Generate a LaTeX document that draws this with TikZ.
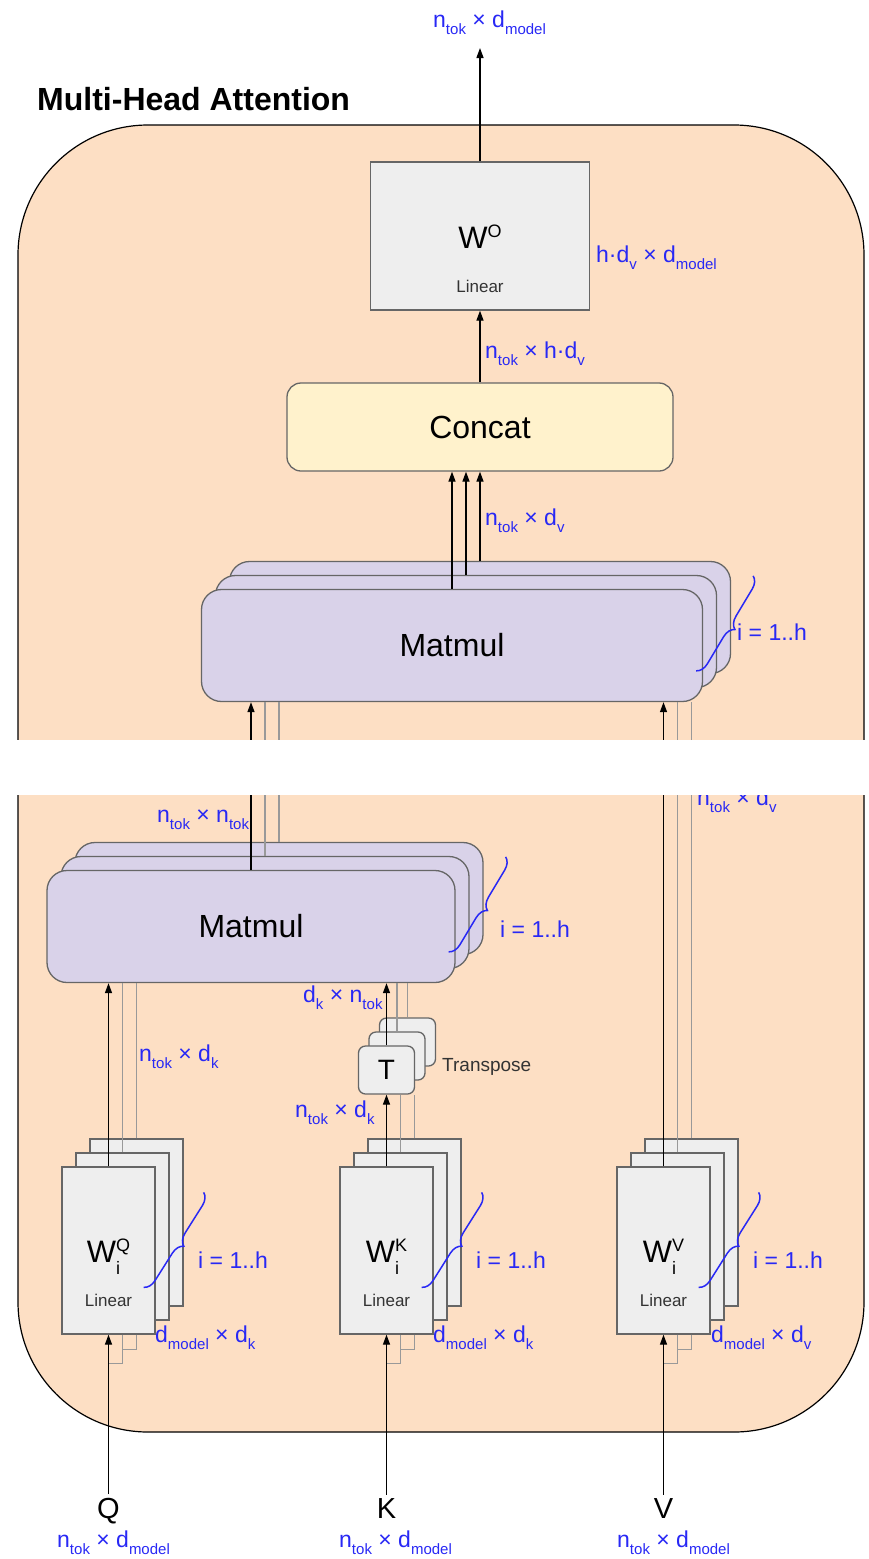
\documentclass[tikz,border=0pt]{standalone}
\usepackage{fontspec}
\setmainfont{Liberation Sans}
\usetikzlibrary{arrows.meta,calc,decorations.pathreplacing}

\definecolor{peach}{RGB}{253,223,196}
\definecolor{lavender}{RGB}{217,210,233}
\definecolor{cream}{RGB}{255,242,204}
\definecolor{boxfill}{RGB}{238,238,238}
\definecolor{boxedge}{RGB}{102,102,102}
\definecolor{wiregray}{RGB}{153,153,153}
\definecolor{dimblue}{RGB}{40,40,245}
\definecolor{softblack}{RGB}{51,51,51}

% lowered subscript used in the shape labels
\newcommand\dsub[1]{\raisebox{-7pt}{\fontsize{15}{15}\selectfont #1}}
% raised superscript / stacked sub+superscript for weight names
\newcommand\wsup[1]{\raisebox{11pt}{\fontsize{18}{18}\selectfont #1}}
\newcommand\wsubsup[2]{\rlap{\raisebox{-12pt}{\fontsize{18}{18}\selectfont #1}}\wsup{#2}}

\begin{document}
\begin{tikzpicture}[x=1pt,y=-1pt,
  outerbox/.style={draw=black, fill=peach, line width=1.2pt, rounded corners=130pt},
  mm/.style={draw=boxedge, fill=lavender, line width=1.3pt, rounded corners=20pt,
    minimum height=112pt, inner sep=0pt, font=\fontsize{32}{32}\selectfont},
  lin/.style={draw=boxedge, fill=boxfill, line width=1.3pt,
    minimum width=93pt, minimum height=167pt, inner sep=0pt},
  tbox/.style={draw=boxedge, fill=boxfill, line width=1.3pt, rounded corners=7pt,
    minimum width=56pt, minimum height=48pt, inner sep=0pt, font=\fontsize{28}{28}\selectfont},
  wname/.style={anchor=base, inner sep=0pt, font=\fontsize{31}{31}\selectfont},
  wtag/.style={anchor=base, inner sep=0pt, text=softblack, font=\fontsize{17}{17}\selectfont},
  dim/.style={anchor=base west, inner sep=0pt, text=dimblue, font=\fontsize{23}{23}\selectfont},
  arr/.style={draw=black, line width=1.3pt, -{Triangle[length=10pt,width=7pt]}},
  wire/.style={draw=wiregray, line width=1.3pt},
  brc/.style={draw=dimblue, line width=1.5pt, decorate, decoration={brace, amplitude=12pt}},
  io/.style={anchor=base, font=\fontsize{29}{29}\selectfont}
]
\useasboundingbox (0,0) rectangle (869,1559);

% container
\draw[outerbox] (18,125) rectangle (864,1432);
\node[anchor=base west, inner sep=0pt, font=\fontsize{32}{32}\selectfont\bfseries] (title) at (37,110) {Multi-Head Attention};

% output projection
\node[lin, minimum width=219pt, minimum height=148pt] (wo) at (480,236) {};
\node[wname] (woname) at ($(wo.center)+(0,12)$) {W\wsup{O}};
\node[wtag] (wotag) at ($(wo.center)+(0,56)$) {Linear};

% concatenation
\node[draw=boxedge, fill=cream, line width=1.3pt, rounded corners=14pt, minimum width=386pt,
  minimum height=88pt, inner sep=0pt, font=\fontsize{32}{32}\selectfont] (concat) at (480,427) {Concat};

% upper matmul, one layer per head
\node[mm, minimum width=501pt] (mmA3) at (480,617.5) {};
\node[mm, minimum width=501pt] (mmA2) at (466,631.5) {};
\node[mm, minimum width=501pt] (mmA1) at (452,645.5) {Matmul};

% lower matmul, one layer per head
\node[mm, minimum width=408pt] (mmB3) at (279,898.5) {};
\node[mm, minimum width=408pt] (mmB2) at (265,912.5) {};
\node[mm, minimum width=408pt] (mmB1) at (251,926.5) {Matmul};

% transpose, one per head
\node[tbox] (tt3) at (407.5,1042) {};
\node[tbox] (tt2) at (397,1056) {};
\node[tbox] (tt1) at (386.5,1070) {T};

% per-head projections
\node[lin] (wq3) at (136.5,1222.5) {};
\node[lin] (wq2) at (122.5,1236.5) {};
\node[lin] (wq1) at (108.5,1250.5) {};
\node[wname] (wqname) at ($(wq1.center)+(0,12)$) {W\wsubsup{i}{Q}};
\node[wtag] (wqtag) at ($(wq1.center)+(0,56)$) {Linear};

\node[lin] (wk3) at (414.5,1222.5) {};
\node[lin] (wk2) at (400.5,1236.5) {};
\node[lin] (wk1) at (386.5,1250.5) {};
\node[wname] (wkname) at ($(wk1.center)+(0,12)$) {W\wsubsup{i}{K}};
\node[wtag] (wktag) at ($(wk1.center)+(0,56)$) {Linear};

\node[lin] (wv3) at (691.5,1222.5) {};
\node[lin] (wv2) at (677.5,1236.5) {};
\node[lin] (wv1) at (663.5,1250.5) {};
\node[wname] (wvname) at ($(wv1.center)+(0,12)$) {W\wsubsup{i}{V}};
\node[wtag] (wvtag) at ($(wv1.center)+(0,56)$) {Linear};

% inputs
\node[io] (qin) at (108.5,1518) {Q};
\node[io] (kin) at (386.5,1518) {K};
\node[io] (vin) at (663.5,1518) {V};

% connectors: top part
\coordinate (outtip) at (480,48);
\draw[arr] (wo.north) -- (outtip);
\draw[arr] (concat.north) -- (wo.south);
\draw[arr] (mmA1.north) -- (mmA1.north |- concat.south);
\draw[arr] (mmA2.north) -- (mmA2.north |- concat.south);
\draw[arr] (mmA3.north) -- (mmA3.north |- concat.south);

% scores into the upper matmul
\draw[arr] (mmB1.north) -- (mmB1.north |- mmA1.south);
\draw[wire] (mmB2.north) -- (mmB2.north |- mmA1.south);
\draw[wire] (mmB3.north) -- (mmB3.north |- mmA1.south);
% values into the upper matmul
\draw[arr] (wv1.north) -- (wv1.north |- mmA1.south);
\draw[wire] (wv2.north) -- (wv2.north |- mmA1.south);
\draw[wire] (wv3.north) -- (wv3.north |- mmA1.south);

% queries and transposed keys into the lower matmul
\draw[arr] (wq1.north) -- (wq1.north |- mmB1.south);
\draw[wire] (wq2.north) -- (wq2.north |- mmB1.south);
\draw[wire] (wq3.north) -- (wq3.north |- mmB1.south);
\draw[arr] (tt1.north) -- (tt1.north |- mmB1.south);
\draw[wire] (tt2.north) -- (tt2.north |- mmB1.south);
\draw[wire] (tt3.north) -- (tt3.north |- mmB1.south);
\draw[arr] (wk1.north) -- (tt1.south);
\draw[wire] (wk2.north) -- (wk2.north |- tt1.south);
\draw[wire] (wk3.north) -- (wk3.north |- tt1.south);

% inputs fanned out to every head
\draw[arr] (qin.north) -- (wq1.south);
\draw[arr] (kin.north) -- (wk1.south);
\draw[arr] (vin.north) -- (wv1.south);
\foreach \s in {q,k,v}{
  \draw[wire] (w\s3.south |- w\s1.south) -- ++(0,15) -- ++(-14,0);
  \draw[wire] (w\s2.south |- w\s1.south) -- ++(0,29) -- ++(-14,0);
}

% braces over the head copies
\draw[brc] ($(mmA1.north east)+(50,-13)$) -- ($(mmA1.north east)+(-7,82)$);
\draw[brc] ($(mmB1.north east)+(50,-13)$) -- ($(mmB1.north east)+(-7,82)$);
\draw[brc] ($(wq1.north east)+(48,26)$) -- ($(wq1.north east)+(-12,121)$);
\draw[brc] ($(wk1.north east)+(48,26)$) -- ($(wk1.north east)+(-12,121)$);
\draw[brc] ($(wv1.north east)+(48,26)$) -- ($(wv1.north east)+(-12,121)$);

% shapes
\node[dim] (lblout) at (433,27) {n\dsub{tok} × d\dsub{model}};
\node[dim] (lblwo) at (596,262) {h·d\dsub{v} × d\dsub{model}};
\node[dim] (lblcat) at (485,358) {n\dsub{tok} × h·d\dsub{v}};
\node[dim] (lblhead) at (485,525) {n\dsub{tok} × d\dsub{v}};
\node[dim] (lblia) at (737,640) {i = 1..h};
\node[dim] (lblvv) at (697,805) {n\dsub{tok} × d\dsub{v}};
\node[dim] (lblscore) at (157,822) {n\dsub{tok} × n\dsub{tok}};
\node[dim] (lblib) at (500,937) {i = 1..h};
\node[dim] (lblkt) at (303,1002) {d\dsub{k} × n\dsub{tok}};
\node[anchor=base west, inner sep=0pt, text=softblack, font=\fontsize{19}{19}\selectfont] (trlbl) at (442,1071) {Transpose};
\node[dim] (lblk) at (295,1117) {n\dsub{tok} × d\dsub{k}};
\node[dim] (lblq) at (139,1061) {n\dsub{tok} × d\dsub{k}};
\node[dim] (lbliq) at (198,1268) {i = 1..h};
\node[dim] (lblik) at (476,1268) {i = 1..h};
\node[dim] (lbliv) at (753,1268) {i = 1..h};
\node[dim] (lblwq) at (155,1342) {d\dsub{model} × d\dsub{k}};
\node[dim] (lblwk) at (433,1342) {d\dsub{model} × d\dsub{k}};
\node[dim] (lblwv) at (711,1342) {d\dsub{model} × d\dsub{v}};
\node[dim] (lblqin) at (57,1547) {n\dsub{tok} × d\dsub{model}};
\node[dim] (lblkin) at (339,1547) {n\dsub{tok} × d\dsub{model}};
\node[dim] (lblvin) at (617,1547) {n\dsub{tok} × d\dsub{model}};

% blank strip between the two halves
\fill[white] (0,740) rectangle (869,795);
\end{tikzpicture}
\end{document}
